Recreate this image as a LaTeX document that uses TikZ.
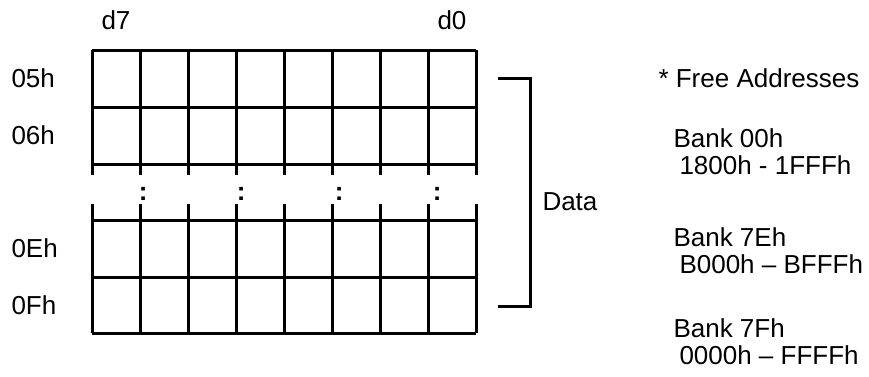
\documentclass[tikz,border=0pt]{standalone}
\usepackage{fontspec}
\setmainfont{Liberation Sans}
\usepackage{tikz}
\usetikzlibrary{positioning}

\begin{document}
\begin{tikzpicture}[x=0.75pt,y=-0.75pt,line width=2.25pt,
    lbl/.style={font=\fontsize{19.5pt}{20.25pt}\selectfont,inner sep=0pt},
    bank/.style={lbl,anchor=west,align=left}]
    \useasboundingbox (0,0) rectangle (869,376);
    % register grid, upper part
    \foreach \i in {0,...,8}
      \draw (92+48*\i,50) -- (92+48*\i,175);
    % register grid, lower part
    \foreach \i in {0,...,8}
      \draw (92+48*\i,204) -- (92+48*\i,333);
    \foreach \y in {50,107,164,220,277,333}
      \draw (92,\y) -- (476,\y);
    % gap markers
    \foreach \k in {0,...,3}
      \node[lbl,font=\fontsize{19.5pt}{23pt}\selectfont\bfseries] (gap\k) at (143.3+98*\k,194){:};
    % bit labels
    \node[lbl] (bit7) at (116,20){d7};
    \node[lbl] (bit0) at (452,20){d0};
    % row addresses
    \node[lbl,anchor=west] (row05) at (10,78.5){05h};
    \node[lbl,anchor=west] (row06) at (10,135.5){06h};
    \node[lbl,anchor=west] (row0E) at (10,248.5){0Eh};
    \node[lbl,anchor=west] (row0F) at (10,305){0Fh};
    % bracket
    \coordinate (brtop) at (498,78);
    \coordinate (brbot) at (498,306);
    \draw (brtop) -- ++(32,0) |- (brbot);
    \node[lbl,anchor=west] (data) at (541,202){Data};
    % free addresses
    \node[lbl,anchor=west] (free) at (657,78){* Free Addresses};
    \node[bank] (bank00) at (672,151.5){Bank 00h\\\hspace*{4.5pt}1800h - 1FFFh};
    \node[bank] (bank7E) at (672,250.5){Bank 7Eh\\\hspace*{4.5pt}B000h -- BFFFh};
    \node[bank] (bank7F) at (672,341.5){Bank 7Fh\\\hspace*{4.5pt}0000h -- FFFFh};
\end{tikzpicture}
\end{document}
